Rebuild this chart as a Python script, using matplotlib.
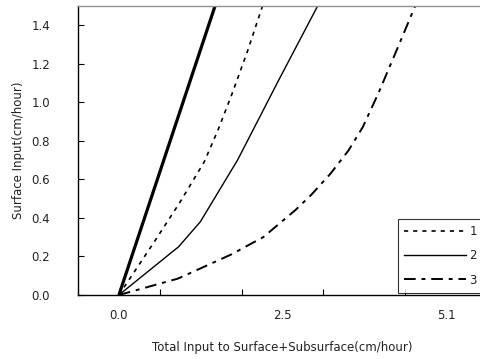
import matplotlib.pyplot as plt

# data
line0_x = [0.0, 1.5]
line0_y = [0.0, 1.5]

line1_x = [0.0, 0.56, 0.95, 1.33, 1.55, 1.76, 2.0, 2.24]
line1_y = [0.0, 0.28, 0.48, 0.69, 0.86, 1.04, 1.26, 1.5]

line2_x = [0.0, 0.93, 1.27, 1.85, 2.5, 3.1]
line2_y = [0.0, 0.25, 0.38, 0.70, 1.12, 1.5]

line3_x = [0.0, 0.92, 1.75, 2.25, 2.5, 2.75, 3.0, 3.3, 3.58, 3.8, 4.05, 4.33, 4.62]
line3_y = [0.0, 0.085, 0.21, 0.30, 0.37, 0.44, 0.52, 0.63, 0.75, 0.87, 1.05, 1.27, 1.5]

x_labels = ['0.0', '2.5', '5.1']
x_label_pos = [0.0, 2.55, 5.1]
x_tick_pos = [-0.6375, 0.6375, 1.9125, 3.1875, 4.4625, 5.7375]
y_ticks = [0.0, 0.2, 0.4, 0.6, 0.8, 1.0, 1.2, 1.4]

txt = '#222222'
fs = 8.5

fig = plt.figure(figsize=(4.81, 3.59), dpi=100)
ax = fig.add_axes([78 / 481, 64 / 359, 409 / 481, 289.3 / 359])

ax.plot(line0_x, line0_y, color='black', lw=2.3, solid_capstyle='butt')
ax.plot(line1_x, line1_y, color='black', lw=1.2, ls=(0, (2.5, 3)), label='1')
ax.plot(line2_x, line2_y, color='black', lw=1.0, label='2')
ax.plot(line3_x, line3_y, color='black', lw=1.4, ls=(0, (6, 3, 2, 3)), label='3')

ax.set_xlim(-0.6375, 5.7375)
ax.set_ylim(0, 1.5)

# category-style x axis: tick marks at boundaries, labels in between
ax.set_xticks(x_tick_pos)
ax.set_xticklabels([])
ax.set_xticks(x_label_pos, minor=True)
ax.set_xticklabels(x_labels, minor=True)
ax.tick_params(axis='x', which='major', direction='in', length=4, width=0.8)
ax.tick_params(axis='x', which='minor', length=0, pad=10, labelsize=fs, labelcolor=txt)

ax.set_yticks(y_ticks)
ax.set_yticklabels([f'{v:.1f}' for v in y_ticks])
ax.tick_params(axis='y', direction='in', length=4, width=0.8, pad=20,
               labelsize=fs, labelcolor=txt)

ax.spines['top'].set_color('#909090')
ax.spines['top'].set_linewidth(1.0)
ax.spines['right'].set_visible(False)
ax.spines['left'].set_linewidth(1.0)
ax.spines['bottom'].set_linewidth(1.0)

ax.set_xlabel('Total Input to Surface+Subsurface(cm/hour)', fontsize=fs, color=txt, labelpad=14)
ax.set_ylabel('Surface Input(cm/hour)', fontsize=fs, color=txt, labelpad=5)

# legend box runs past the right edge, as in the reference
leg = ax.legend(loc='lower left', bbox_to_anchor=(398 / 481, 66 / 359),
                bbox_transform=fig.transFigure, fontsize=fs, frameon=True,
                fancybox=False, handlelength=5.2, handletextpad=0.3,
                labelspacing=0.95, borderpad=0.55, borderaxespad=0)
leg.get_frame().set_edgecolor('black')
leg.get_frame().set_linewidth(0.8)
for t in leg.get_texts():
    t.set_color(txt)

fig.savefig('out.png', dpi=100)
